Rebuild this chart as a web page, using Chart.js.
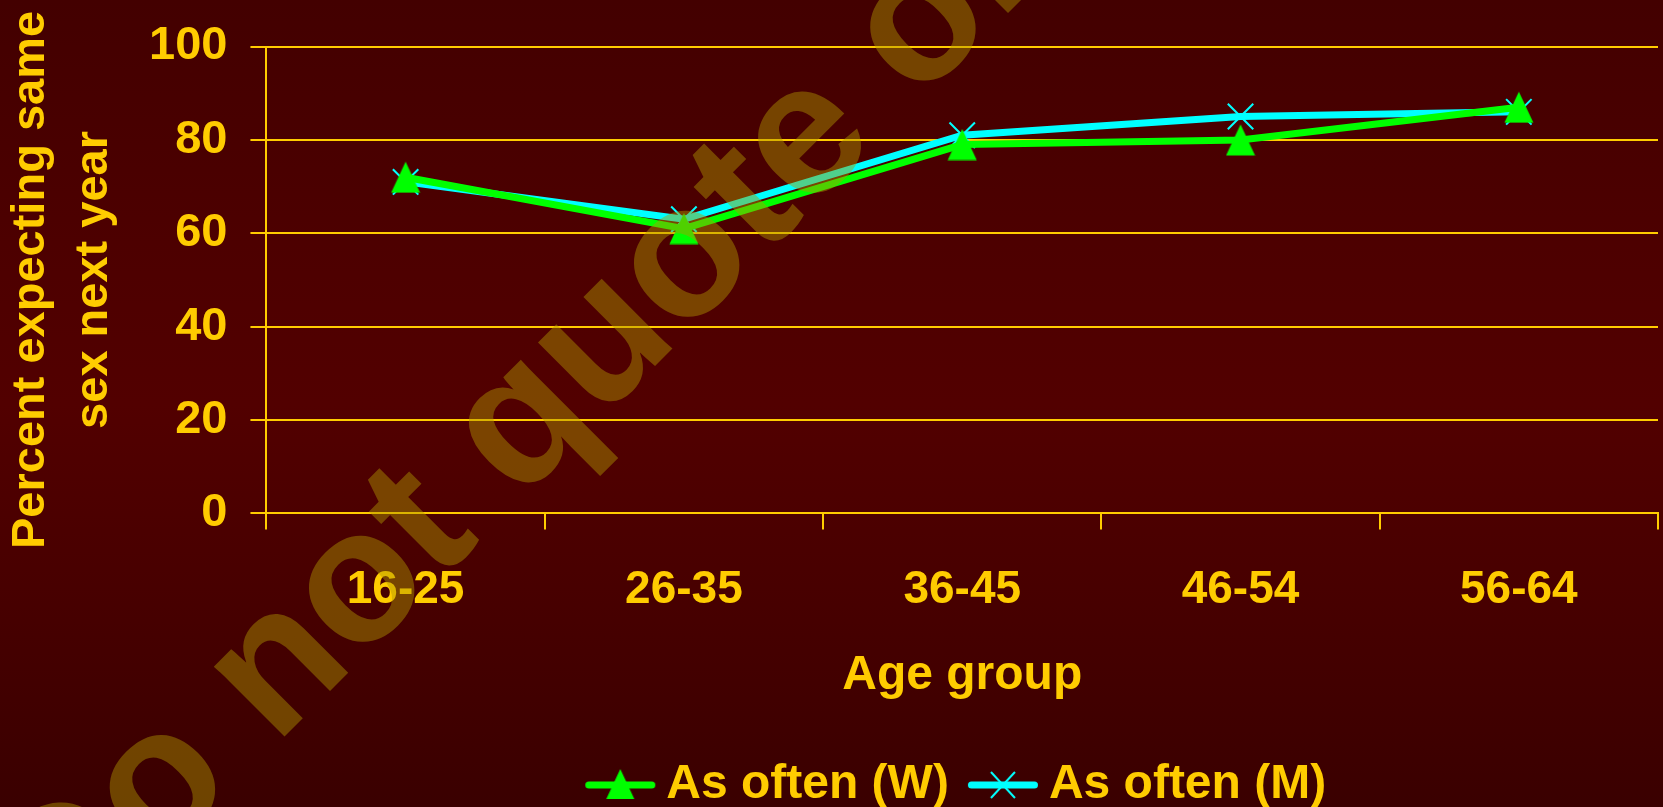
<!DOCTYPE html>
<html>
<head>
<meta charset="utf-8">
<script src="https://cdn.jsdelivr.net/npm/chart.js@4/dist/chart.umd.min.js"></script>
<style>
  html, body { margin: 0; padding: 0; }
  body { width: 1663px; height: 807px; overflow: hidden;
    background: linear-gradient(to bottom, #430000 0%, #4d0000 30%, #520000 50%, #470000 75%, #3a0000 100%); }
  #wrap { position: absolute; left: 0; top: 0; width: 1663px; height: 807px; }
</style>
</head>
<body>
<div id="wrap"><canvas id="c" width="1663" height="807"></canvas></div>
<script>
const categories = ['16-25', '26-35', '36-45', '46-54', '56-64'];
const womenAsOften = [72, 61, 79, 80, 87];
const menAsOften = [71, 63, 81, 85, 86];
const yTicks = [0, 20, 40, 60, 80, 100];
const seriesNames = ['As often (W)', 'As often (M)'];
const yTitle = ['Percent expecting same', 'sex next year'];
const xTitle = 'Age group';
const watermark = 'Do not quote or cite';

const GOLD = '#FFCC00';
const GREEN = '#00FF00';
const CYAN = '#00FFFF';
const FONT = '"Liberation Sans", Arial, sans-serif';

function legendImg(kind) {
  const c = document.createElement('canvas');
  c.width = 74; c.height = 40;
  const x = c.getContext('2d');
  const col = kind === 'tri' ? GREEN : CYAN;
  x.strokeStyle = col; x.lineWidth = 7; x.lineCap = 'round';
  x.beginPath(); x.moveTo(5.5, 20); x.lineTo(68.5, 20); x.stroke();
  if (kind === 'tri') {
    x.fillStyle = col;
    x.beginPath(); x.moveTo(37, 4); x.lineTo(51, 34); x.lineTo(23, 34); x.closePath(); x.fill();
  } else {
    x.lineWidth = 2; x.lineCap = 'butt';
    x.beginPath(); x.moveTo(25, 7); x.lineTo(49, 33); x.moveTo(49, 7); x.lineTo(25, 33); x.stroke();
  }
  return c;
}
const legendImgs = [legendImg('tri'), legendImg('x')];

function triangleImg() {
  const c = document.createElement('canvas');
  c.width = 30; c.height = 32;
  const x = c.getContext('2d');
  x.fillStyle = GREEN;
  x.beginPath(); x.moveTo(15, 0.5); x.lineTo(29.5, 31.5); x.lineTo(0.5, 31.5); x.closePath(); x.fill();
  return c;
}
const triImg = triangleImg();

const watermarkPlugin = {
  id: 'watermark',
  afterDraw(chart) {
    const ctx = chart.ctx;
    ctx.save();
    ctx.translate(61, 960);
    ctx.rotate(-Math.PI / 4);
    ctx.font = 'bold 188px ' + FONT;
    ctx.fillStyle = 'rgba(175,150,0,0.45)';
    ctx.textBaseline = 'alphabetic';
    ctx.fillText(watermark, 0, 0);
    ctx.restore();
  }
};

const centerLegendPlugin = {
  id: 'centerLegend',
  afterLayout(chart) {
    const l = chart.legend, ca = chart.chartArea;
    if (!l || !ca) return;
    const d = (ca.left + ca.right) / 2 - (l.left + l.right) / 2;
    l.left += d; l.right += d;
  }
};

new Chart(document.getElementById('c'), {
  type: 'line',
  data: {
    labels: categories,
    datasets: [
      {
        label: seriesNames[0], data: womenAsOften,
        borderColor: GREEN, backgroundColor: GREEN, borderWidth: 7,
        pointStyle: triImg, pointRadius: 16, pointHoverRadius: 16,
        pointBackgroundColor: GREEN, pointBorderColor: GREEN, pointBorderWidth: 1,
        tension: 0
      },
      {
        label: seriesNames[1], data: menAsOften,
        borderColor: CYAN, backgroundColor: CYAN, borderWidth: 7,
        pointStyle: 'crossRot', pointRadius: 18, pointHoverRadius: 18,
        pointBorderColor: CYAN, pointBorderWidth: 2,
        tension: 0
      }
    ]
  },
  options: {
    responsive: false,
    animation: false,
    events: [],
    layout: { autoPadding: false, padding: { left: 0, right: 5, top: 10, bottom: -12 } },
    plugins: {
      tooltip: { enabled: false },
      legend: {
        position: 'bottom',
        labels: {
          color: GOLD,
          font: { family: FONT, size: 48, weight: 'bold' },
          usePointStyle: true,
          pointStyleWidth: 44,
          padding: 32,
          generateLabels(chart) {
            const items = Chart.defaults.plugins.legend.labels.generateLabels(chart);
            items.forEach((it, i) => { it.pointStyle = legendImgs[i]; it.fontColor = GOLD; });
            return items;
          }
        }
      }
    },
    scales: {
      x: {
        offset: true,
        grid: { offset: true, drawOnChartArea: false, drawTicks: true, tickLength: 16, color: GOLD, lineWidth: 2 },
        border: { display: true, color: GOLD, width: 2 },
        ticks: { color: GOLD, font: { family: FONT, size: 46, weight: 'bold', lineHeight: 1.0 }, padding: 38, maxRotation: 0 },
        title: { display: true, text: xTitle, color: GOLD, font: { family: FONT, size: 48, weight: 'bold' }, padding: { top: -4, bottom: 24 } }
      },
      y: {
        min: 0, max: 100,
        afterBuildTicks(scale) { scale.ticks = yTicks.map(v => ({ value: v })); },
        grid: { color: GOLD, lineWidth: 2, tickLength: 16 },
        border: { display: true, color: GOLD, width: 2 },
        ticks: { color: GOLD, font: { family: FONT, size: 47, weight: 'bold', lineHeight: 1.0 }, padding: 23 },
        title: { display: true, text: yTitle, color: GOLD, font: { family: FONT, size: 47, weight: 'bold', lineHeight: 1.33 }, padding: { top: 0, bottom: 1 } }
      }
    }
  },
  plugins: [watermarkPlugin, centerLegendPlugin]
});
</script>
</body>
</html>
